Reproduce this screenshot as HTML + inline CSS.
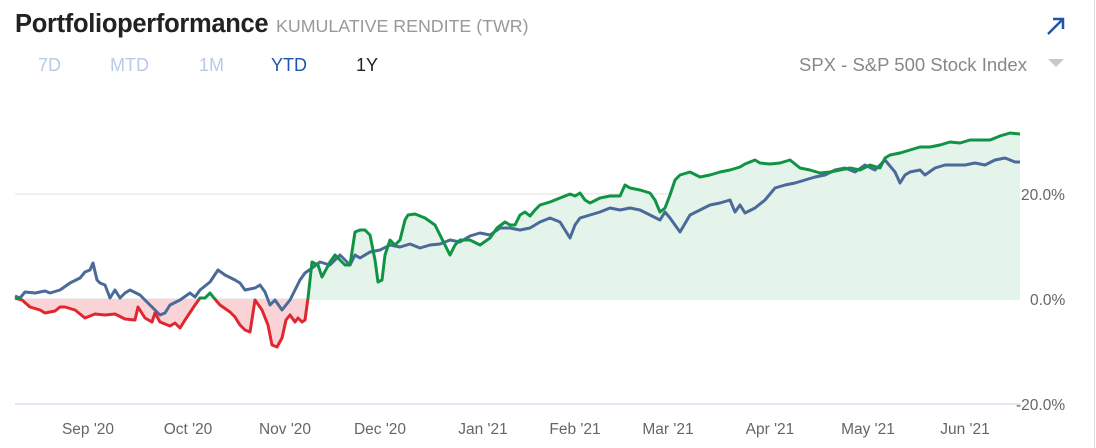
<!DOCTYPE html>
<html><head><meta charset="utf-8"><style>
body{margin:0;width:1096px;height:448px;background:#fff;overflow:hidden;font-family:"Liberation Sans",sans-serif;position:relative}
.t{position:absolute;white-space:nowrap}
</style></head><body>
<div class="t" style="left:15px;top:10px;font-size:25.5px;font-weight:bold;color:#222;letter-spacing:-0.3px">Portfolioperformance</div>
<div class="t" style="left:276px;top:16px;font-size:17.8px;color:#999">KUMULATIVE RENDITE (TWR)</div>
<div class="t" style="left:38px;top:55px;font-size:18px;color:#b7cbe6">7D</div>
<div class="t" style="left:110px;top:55px;font-size:18px;color:#b7cbe6">MTD</div>
<div class="t" style="left:199px;top:55px;font-size:18px;color:#b7cbe6">1M</div>
<div class="t" style="left:271px;top:55px;font-size:18px;color:#1f56a8">YTD</div>
<div class="t" style="left:356px;top:55px;font-size:18px;color:#222">1Y</div>
<div class="t" style="left:799px;top:54px;font-size:18.5px;color:#888">SPX - S&amp;P 500 Stock Index</div>
<div style="position:absolute;right:1px;top:0;width:1px;height:448px;background:#ddd"></div>
<svg width="1096" height="448" style="position:absolute;left:0;top:0">
<polygon points="1048,59 1064,59 1056,67" fill="#c8c8c8"/>
<path d="M1048,34 L1063,19 M1053,19 L1063,19 L1063,29" stroke="#1f56a8" stroke-width="2.5" fill="none"/>
<defs>
<clipPath id="up"><rect x="0" y="0" width="1096" height="299"/></clipPath>
<clipPath id="dn"><rect x="0" y="299" width="1096" height="200"/></clipPath>
</defs>
<line x1="15" y1="194" x2="1020" y2="194" stroke="#e2e2e2"/>
<line x1="15" y1="299" x2="1020" y2="299" stroke="#e2e2e2"/>
<line x1="15" y1="404" x2="1020" y2="404" stroke="#d5e0ee" stroke-width="1.5"/>
<g id="g"></g>
<g font-size="15.5" fill="#666">
<text x="1021" y="200">20.0%</text><text x="1030" y="305">0.0%</text><text x="1016" y="410">-20.0%</text>
<text x="88" y="434" text-anchor="middle">Sep '20</text><text x="188" y="434" text-anchor="middle">Oct '20</text>
<text x="285" y="434" text-anchor="middle">Nov '20</text><text x="380" y="434" text-anchor="middle">Dec '20</text>
<text x="483" y="434" text-anchor="middle">Jan '21</text><text x="575" y="434" text-anchor="middle">Feb '21</text>
<text x="668" y="434" text-anchor="middle">Mar '21</text><text x="770" y="434" text-anchor="middle">Apr '21</text>
<text x="868" y="434" text-anchor="middle">May '21</text><text x="965" y="434" text-anchor="middle">Jun '21</text>
</g>
</svg>
<script>
var P="15,298 22,300 30,307 40,310 45,313 55,311 60,307 65,307 75,310 85,318 95,314 105,315 115,314 125,319 135,320 138,307 145,318 152,322 155,313 160,322 170,326 175,323 180,328 185,320 195,305 200,298 205,298 210,293 214,298 220,305 230,312 235,317 240,325 245,330 250,332 255,300 262,310 268,325 272,345 277,347 282,338 286,320 290,315 295,322 298,318 302,322 305,320 308,298 312,262 318,265 322,277 330,262 335,255 340,260 345,265 350,265 355,232 360,230 365,230 370,235 375,260 378,282 382,280 385,255 390,240 395,245 400,240 405,220 408,215 415,214 425,218 435,225 440,235 445,245 450,255 455,245 460,240 470,240 480,245 490,238 497,228 505,222 510,225 515,225 520,215 525,212 530,216 535,210 540,205 550,202 560,198 570,194 575,196 580,193 585,200 590,203 600,198 610,196 620,196 625,185 630,188 640,190 650,193 655,200 660,212 665,208 670,195 675,180 680,175 690,172 700,177 710,175 720,172 730,170 740,167 745,164 755,160 760,163 770,164 780,163 790,160 800,168 810,170 820,173 830,172 840,170 850,168 860,170 870,165 880,168 885,158 890,155 900,153 910,150 920,147 930,147 940,145 950,142 960,143 970,140 980,140 990,140 1000,136 1010,133 1020,134";
var B="15,296 20,298 25,292 35,293 45,291 50,293 60,290 70,283 80,278 85,272 90,270 93,263 97,280 100,283 105,285 110,298 115,290 120,298 125,293 130,290 140,295 150,305 155,310 160,315 165,313 170,305 180,300 190,293 195,297 200,290 210,282 218,270 225,275 235,280 240,283 245,290 255,288 260,285 265,292 270,305 275,300 282,310 290,300 300,280 305,273 312,268 320,262 330,265 340,255 350,265 355,255 360,258 370,252 380,250 390,245 400,247 410,244 420,248 430,245 440,244 450,240 460,242 470,236 480,233 490,235 500,228 510,228 520,230 530,228 540,222 550,218 560,222 565,230 570,238 575,225 580,218 590,215 600,212 610,208 620,210 630,208 640,210 650,215 660,220 665,212 670,218 680,232 690,215 700,210 710,205 720,203 730,200 735,212 740,205 745,213 755,208 765,200 775,188 785,185 795,183 805,180 815,177 825,175 835,170 845,168 855,172 865,165 875,170 885,160 895,172 900,183 905,175 910,172 920,170 925,175 935,168 945,165 955,165 965,165 975,163 985,165 995,160 1005,158 1015,162 1020,162";
var A=P+" 1020,299 15,299";
document.getElementById('g').innerHTML=
'<polygon points="'+A+'" fill="#e5f4ea" clip-path="url(#up)"/>'+
'<polygon points="'+A+'" fill="#f9d3d6" clip-path="url(#dn)"/>'+
'<polyline points="'+B+'" fill="none" stroke="#4a6a9a" stroke-width="3" stroke-linejoin="round"/>'+
'<polyline points="'+P+'" fill="none" stroke="#0f9444" stroke-width="3" stroke-linejoin="round" clip-path="url(#up)"/>'+
'<polyline points="'+P+'" fill="none" stroke="#e0262f" stroke-width="3" stroke-linejoin="round" clip-path="url(#dn)"/>';
</script>
</body></html>
